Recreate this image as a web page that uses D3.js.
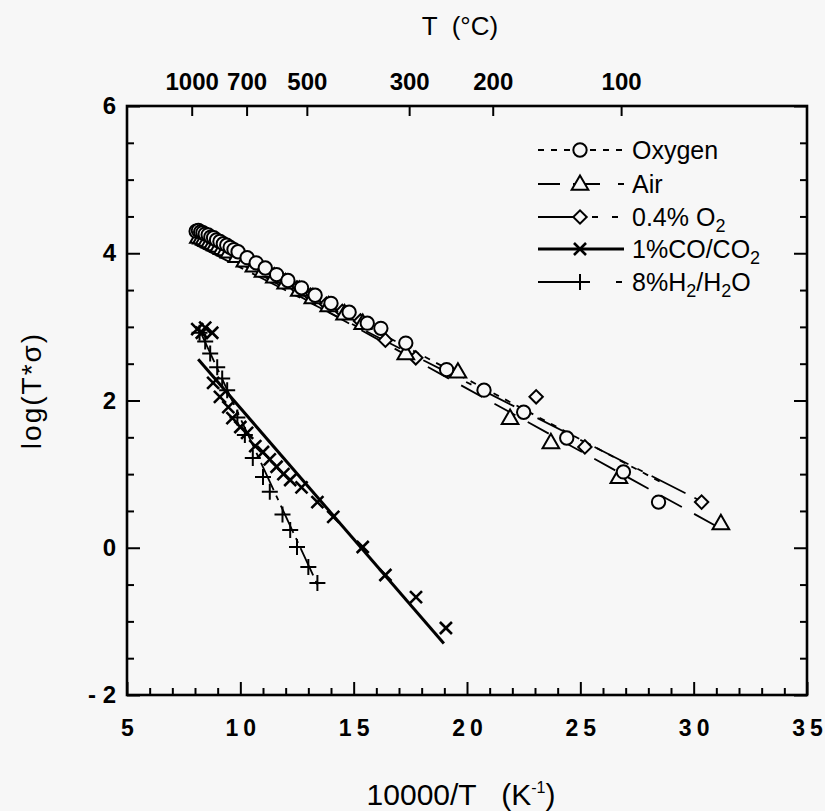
<!DOCTYPE html>
<html>
<head>
<meta charset="utf-8">
<script src="https://cdn.jsdelivr.net/npm/d3@7"></script>
<style>
  body { margin: 0; background: #f7f7f7; }
  svg { font-family: "Liberation Sans", Arial, sans-serif; }
  .axis path { display: none; }
  .axis line { stroke: #000; stroke-width: 2; }
  .axis text { font-size: 24px; font-weight: bold; fill: #000; }
</style>
</head>
<body>
<div id="chart"></div>
<script>
// ---- data ----
const oxygenPts = [[8.05,4.30],[8.15,4.31],[8.25,4.29],[8.35,4.28],[8.45,4.26],[8.58,4.25],[8.7,4.22],[8.82,4.21],
  [8.95,4.18],[9.1,4.16],[9.25,4.13],[9.4,4.11],[9.55,4.08],[9.72,4.05],[9.9,4.02],
  [10.3,3.94],[10.7,3.87],[11.1,3.80],[11.6,3.71],[12.1,3.63],[12.7,3.53],[13.3,3.43],[14.0,3.32],[14.8,3.20],
  [15.6,3.05],[16.2,2.98],[17.3,2.78],[19.1,2.42],[20.75,2.14],[22.5,1.84],[24.4,1.49],[26.9,1.03],[28.45,0.62]];
const airPts = [[8.15,4.22],[8.28,4.21],[8.4,4.20],[8.52,4.18],[8.65,4.16],[8.78,4.14],[8.9,4.12],[9.05,4.10],
  [9.2,4.07],[9.35,4.05],[9.5,4.02],[9.85,3.96],[10.2,3.90],
  [10.6,3.83],[11.0,3.76],[11.5,3.68],[12.0,3.60],[12.6,3.50],[13.2,3.40],[13.9,3.29],[14.6,3.18],[15.4,3.05],
  [17.3,2.64],[19.6,2.39],[21.9,1.76],[23.7,1.43],[26.7,0.96],[31.2,0.33]];
const lowO2Pts = [[8.1,4.25],[8.22,4.24],[8.35,4.22],[8.48,4.20],[8.6,4.18],[8.72,4.17],[8.85,4.15],[9.0,4.12],
  [9.15,4.10],[9.3,4.08],[9.45,4.05],[9.8,3.99],[10.15,3.92],
  [10.55,3.85],[11.0,3.78],[11.45,3.70],[11.95,3.62],[12.5,3.53],[13.1,3.43],[13.8,3.31],[14.5,3.21],[15.3,3.08],
  [16.4,2.82],[17.74,2.58],[23.05,2.05],[25.2,1.37],[30.35,0.62]];
const coPts = [[8.1,2.97],[8.3,2.92],[8.45,2.99],[8.76,2.92],[8.8,2.24],[9.1,2.05],[9.47,1.91],[9.65,1.76],
  [10.0,1.64],[10.3,1.56],[10.66,1.38],[11.0,1.30],[11.3,1.20],[11.6,1.10],[11.9,1.00],[12.2,0.92],[12.7,0.82],
  [13.4,0.62],[14.1,0.42],[15.4,0.01],[16.4,-0.37],[17.75,-0.67],[19.07,-1.09]];
const h2Pts = [[8.2,2.92],[8.45,2.80],[8.67,2.64],[8.98,2.45],[9.2,2.30],[9.42,2.14],[9.87,1.77],[10.2,1.53],
  [10.55,1.22],[11.0,0.96],[11.3,0.76],[11.86,0.45],[12.2,0.24],[12.5,0.01],[13.0,-0.26],[13.4,-0.48]];

// fitted lines (start, end)
const oxygenFit = [[8.0,4.25],[28.5,0.90]];
const airFit = [[8.0,4.20],[31.2,0.26]];
const lowO2Fit = [[8.0,4.12],[30.35,0.63]];
const coFit = [[8.14,2.56],[18.98,-1.30]];
const h2Fit = [[8.3,2.89],[13.4,-0.50]];

const xTicks = d3.range(5, 36, 1);
const yTicks = d3.range(-2, 6.01, 0.5);
const tempC = [1000, 700, 500, 300, 200, 100];

const legendNames = ["Oxygen", "Air", "0.4% O2", "1%CO/CO2", "8%H2/H2O"];

// ---- drawing ----
const width = 825, height = 811;
const margin = {top: 106, right: 18, bottom: 116, left: 127};
const bg = "#f7f7f7";

const svg = d3.select("#chart").append("svg")
    .attr("width", width)
    .attr("height", height);

svg.append("rect").attr("width", width).attr("height", height).attr("fill", bg);

const x = d3.scaleLinear().domain([5, 35]).range([margin.left, width - margin.right]);
const y = d3.scaleLinear().domain([-2, 6]).range([height - margin.bottom, margin.top]);

// bottom axis
const xAxis = svg.append("g")
    .attr("class", "axis")
    .attr("transform", `translate(0,${y(-2)})`)
    .call(d3.axisBottom(x).tickValues(xTicks).tickSizeInner(-7).tickSizeOuter(0).tickPadding(25)
        .tickFormat(d => d % 5 === 0 ? d : ""));
xAxis.selectAll(".tick").filter(d => d % 5 === 0).select("line").attr("y2", -13);
// spaced-out digits, like the original
xAxis.selectAll(".tick text").style("font-size", "23px").each(function(d) {
    const s = d % 5 === 0 ? String(d) : "";
    if (s.length > 1) {
        const t = d3.select(this).text(null);
        t.append("tspan").text(s[0]);
        t.append("tspan").attr("dx", 5).text(s.slice(1));
    }
});

// left axis
const yAxis = svg.append("g")
    .attr("class", "axis")
    .attr("transform", `translate(${x(5)},0)`)
    .call(d3.axisLeft(y).tickValues(yTicks).tickSizeInner(-7).tickSizeOuter(0).tickPadding(11)
        .tickFormat(d => d % 2 === 0 ? (d < 0 ? "- " + (-d) : d) : ""));
yAxis.selectAll(".tick").filter(d => d % 2 === 0).select("line").attr("x2", 13);

// right axis
const yAxisR = svg.append("g")
    .attr("class", "axis")
    .attr("transform", `translate(${x(35)},0)`)
    .call(d3.axisRight(y).tickValues(yTicks).tickSizeInner(-7).tickSizeOuter(0).tickFormat(""));
yAxisR.selectAll(".tick").filter(d => d % 2 === 0).select("line").attr("x2", -13);

// top axis (temperature in C)
svg.append("g")
    .attr("class", "axis")
    .attr("transform", `translate(0,${y(6)})`)
    .call(d3.axisTop(x).tickValues(tempC.map(t => 10000 / (t + 273.15))).tickSizeInner(-10).tickSizeOuter(0)
        .tickPadding(16).tickFormat((d, i) => tempC[i]));

// frame
svg.append("rect")
    .attr("x", x(5)).attr("y", y(6))
    .attr("width", x(35) - x(5)).attr("height", y(-2) - y(6))
    .attr("fill", "none").attr("stroke", "#000").attr("stroke-width", 2.6);

// titles
svg.append("text").attr("x", 460).attr("y", 35).attr("text-anchor", "middle")
    .attr("font-size", 26).attr("xml:space", "preserve").text("T  (°C)");

const xt = svg.append("text").attr("x", 461).attr("y", 805).attr("text-anchor", "middle")
    .attr("font-size", 30).attr("xml:space", "preserve");
xt.append("tspan").text("10000/T   (K");
xt.append("tspan").attr("dy", -12).attr("font-size", 16).text("-1");
xt.append("tspan").attr("dy", 12).text(")");

svg.append("text").attr("transform", `translate(41,${(y(6) + y(-2)) / 2 - 10}) rotate(-90)`)
    .attr("text-anchor", "middle").attr("font-size", 28).style("letter-spacing", "2px").text("log(T*σ)");

// fitted lines
const line = d3.line().x(d => x(d[0])).y(d => y(d[1]));
const plot = svg.append("g");

const styles = {
    oxygen: {dash: "6,7", width: 1.8},
    air: {dash: "24,14", width: 1.8},
    lowO2: {dash: "38,10,6,10", width: 1.8},
    co: {dash: null, width: 3},
    h2: {dash: "30,6,5,6", width: 1.8}
};

function drawFit(pts, st) {
    plot.append("path").datum(pts)
        .attr("d", line)
        .attr("fill", "none").attr("stroke", "#000")
        .attr("stroke-width", st.width)
        .attr("stroke-dasharray", st.dash);
}
drawFit(oxygenFit, styles.oxygen);
drawFit(airFit, styles.air);
drawFit(lowO2Fit, styles.lowO2);
drawFit(coFit, styles.co);
drawFit(h2Fit, styles.h2);

// markers
const circleSym = d3.symbol().type(d3.symbolCircle).size(140);
const triSym = d3.symbol().type(d3.symbolTriangle).size(120);
const diaSym = d3.symbol().type(d3.symbolSquare).size(90);

function crossPath(s) {
    return `M${-s},0L${s},0M0,${-s}L0,${s}`;
}

function markerAttrs(sel, kind, pos) {
    sel.attr("stroke", "#000").attr("stroke-width", 2);
    if (kind === "circle") {
        sel.attr("d", circleSym).attr("fill", bg)
            .attr("transform", d => { const p = pos(d); return `translate(${p[0]},${p[1]})`; });
    } else if (kind === "tri") {
        sel.attr("d", triSym).attr("fill", bg)
            .attr("transform", d => { const p = pos(d); return `translate(${p[0]},${p[1] + 1})`; });
    } else if (kind === "dia") {
        sel.attr("d", diaSym).attr("fill", bg)
            .attr("transform", d => { const p = pos(d); return `translate(${p[0]},${p[1]}) rotate(45)`; });
    } else if (kind === "x") {
        sel.attr("d", crossPath(8.5)).attr("fill", "none").attr("stroke-width", 2.6)
            .attr("transform", d => { const p = pos(d); return `translate(${p[0]},${p[1]}) rotate(45)`; });
    } else {
        sel.attr("d", crossPath(8)).attr("fill", "none").attr("stroke-width", 2)
            .attr("transform", d => { const p = pos(d); return `translate(${p[0]},${p[1]})`; });
    }
}

function drawMarkers(pts, kind) {
    const sel = plot.append("g").selectAll("path").data(pts).enter().append("path");
    markerAttrs(sel, kind, d => [x(d[0]), y(d[1])]);
}
drawMarkers(lowO2Pts, "dia");
drawMarkers(airPts, "tri");
drawMarkers(oxygenPts, "circle");
drawMarkers(coPts, "x");
drawMarkers(h2Pts, "plus");

// legend
const legend = svg.append("g");
const legendKinds = ["circle", "tri", "dia", "x", "plus"];
const legendWidths = [1.8, 1.8, 1.8, 3, 1.8];
const legendDash = ["6,7", "22,13,27,18,6,100", "40,14,6,14,6,100", null, "52,26,6,100"];
const legendY = [150, 184, 217, 249, 282];
const lx0 = 538, lx1 = 624, lmark = 580, ltext = 632;

legendNames.forEach((name, i) => {
    const ly = legendY[i];
    legend.append("line")
        .attr("x1", lx0).attr("x2", lx1).attr("y1", ly).attr("y2", ly)
        .attr("stroke", "#000").attr("stroke-width", legendWidths[i])
        .attr("stroke-dasharray", legendDash[i]);

    const m = legend.append("path").datum(0);
    markerAttrs(m, legendKinds[i], () => [lmark, ly]);

    const t = legend.append("text").attr("x", ltext).attr("y", ly + 9).attr("font-size", 25);
    if (name === "0.4% O2") {
        t.append("tspan").text("0.4% O");
        t.append("tspan").attr("dy", 6).attr("font-size", 18).text("2");
    } else if (name === "1%CO/CO2") {
        t.append("tspan").text("1%CO/CO");
        t.append("tspan").attr("dy", 6).attr("font-size", 18).text("2");
    } else if (name === "8%H2/H2O") {
        t.append("tspan").text("8%H");
        t.append("tspan").attr("dy", 6).attr("font-size", 18).text("2");
        t.append("tspan").attr("dy", -6).text("/H");
        t.append("tspan").attr("dy", 6).attr("font-size", 18).text("2");
        t.append("tspan").attr("dy", -6).text("O");
    } else {
        t.text(name);
    }
});
</script>
</body>
</html>
